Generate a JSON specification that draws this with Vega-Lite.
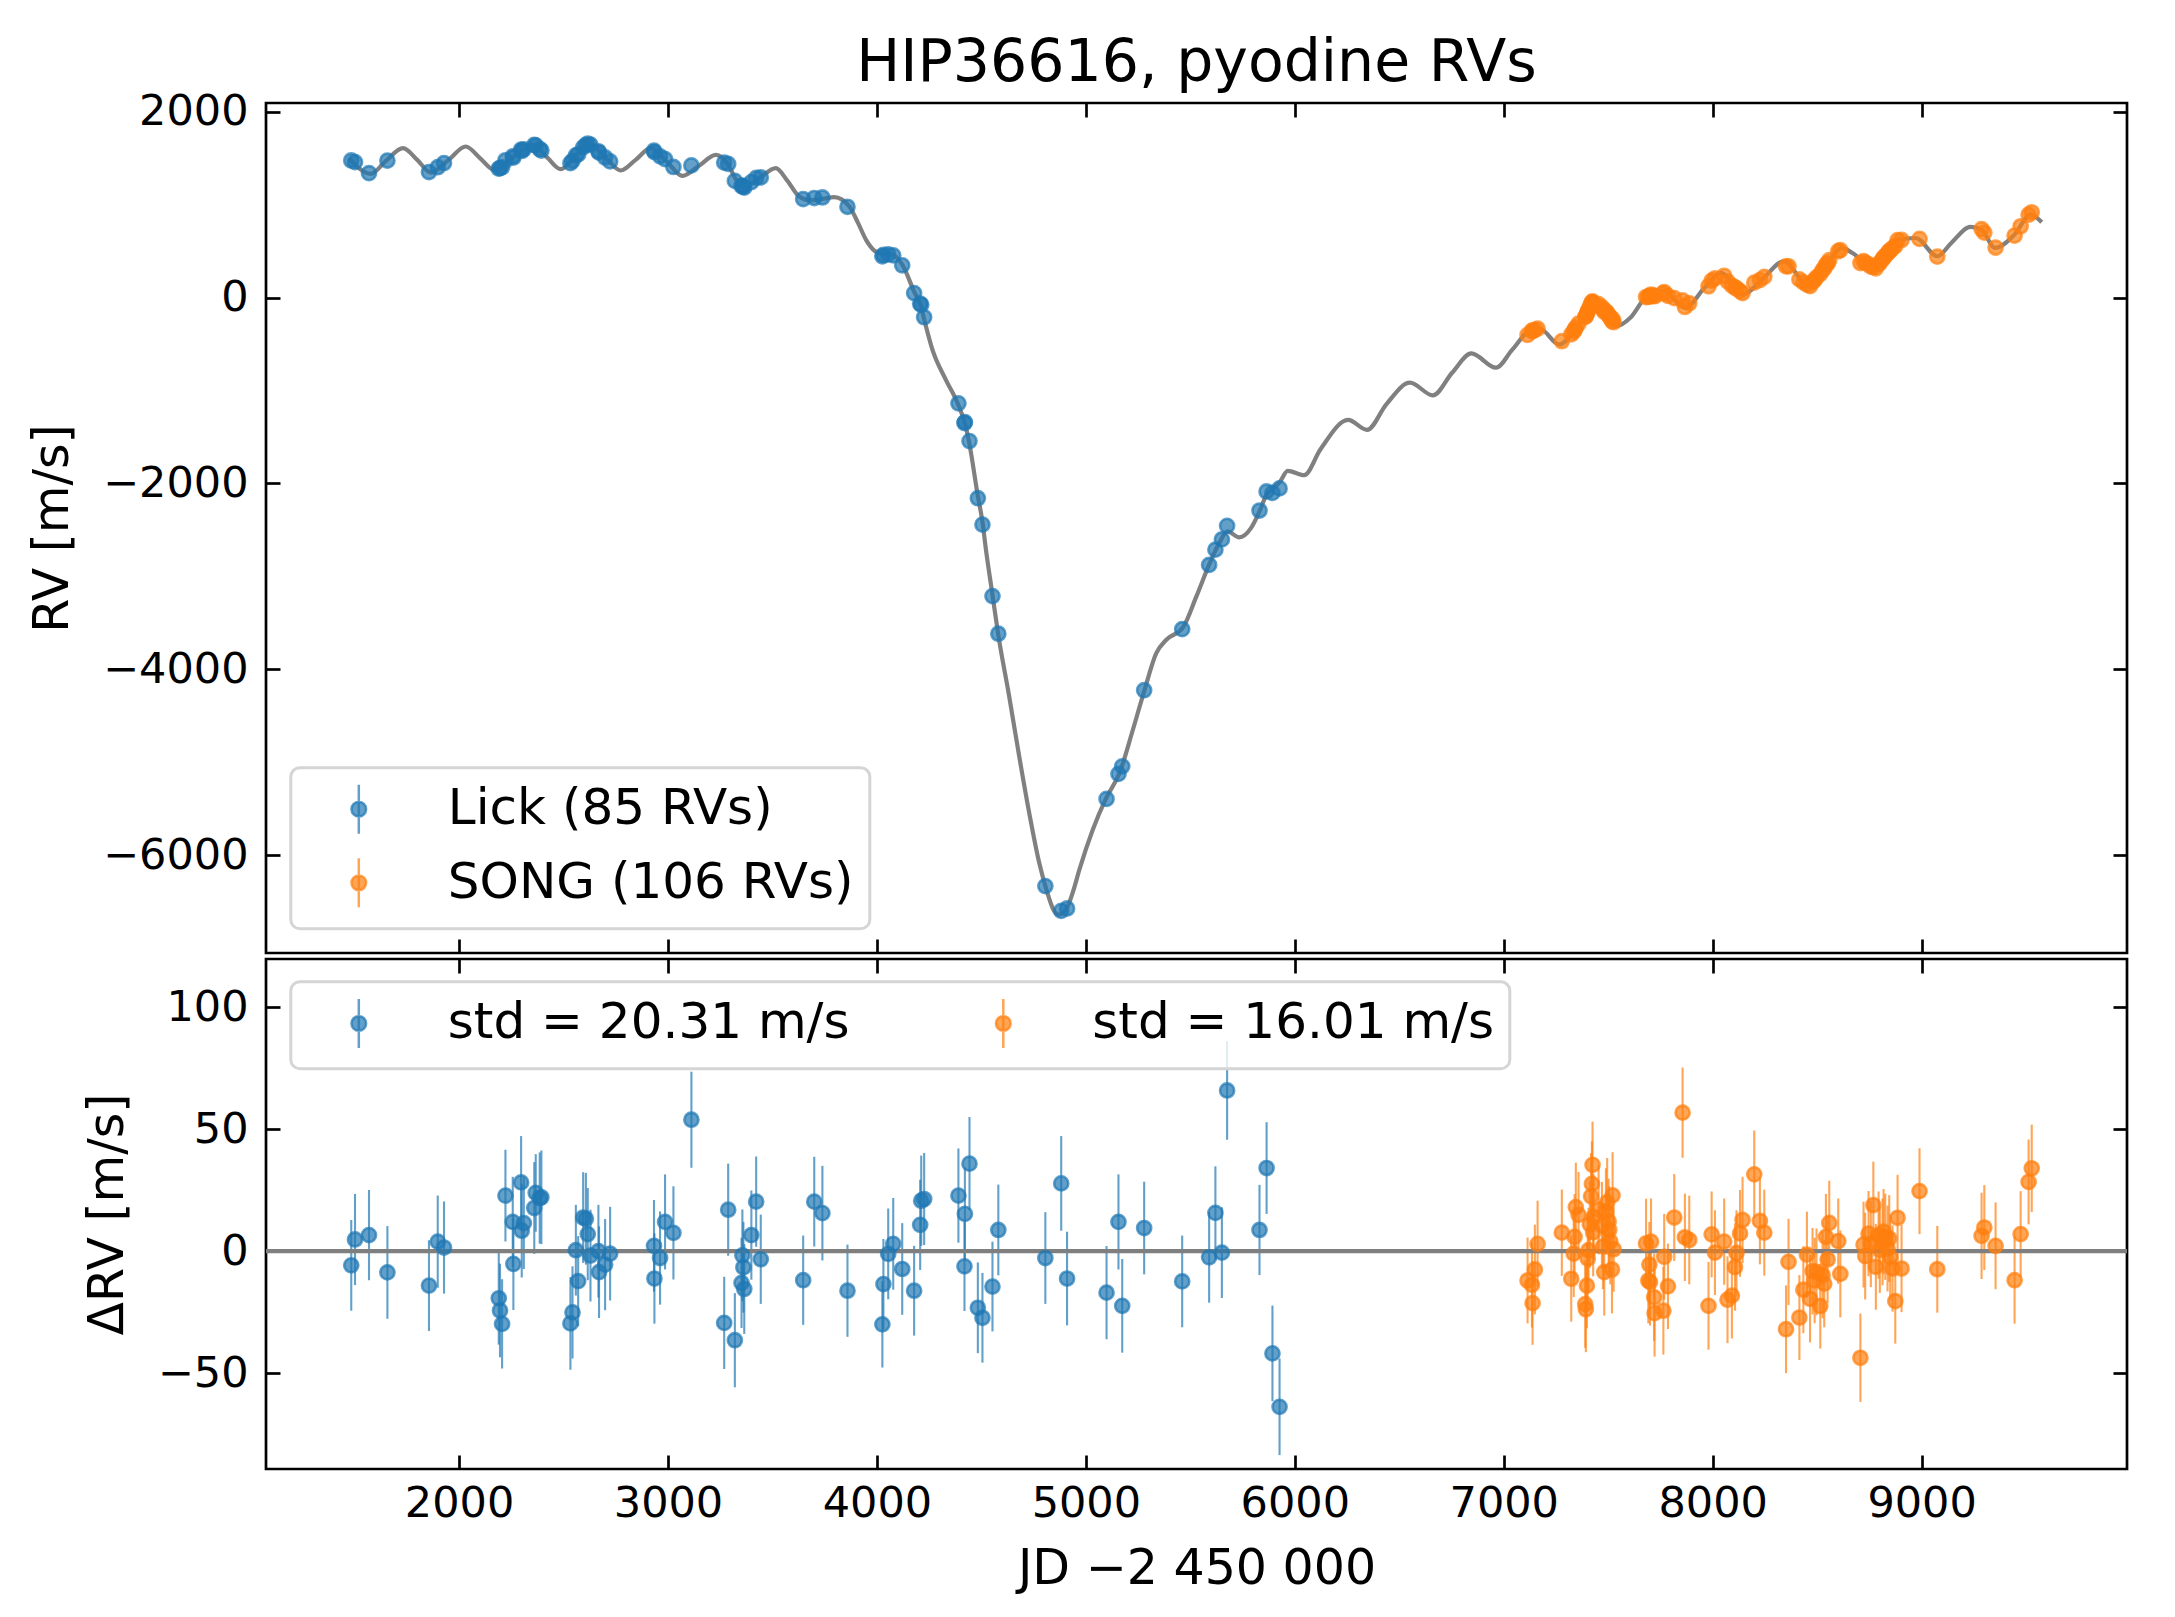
{
  "$schema": "https://vega.github.io/schema/vega-lite/v6.json",
  "background": "white",
  "padding": {"left": 27, "top": 32, "right": 0, "bottom": 0},
  "spacing": 0,
  "datasets": {
    "model": [
      {"t": 1473, "rv": 1498}, {"t": 1577, "rv": 1330}, {"t": 1650, "rv": 1470}, {"t": 1732, "rv": 1606},
      {"t": 1800, "rv": 1480}, {"t": 1865, "rv": 1344}, {"t": 1950, "rv": 1480}, {"t": 2032, "rv": 1624},
      {"t": 2100, "rv": 1500}, {"t": 2168, "rv": 1373}, {"t": 2260, "rv": 1510}, {"t": 2351, "rv": 1641},
      {"t": 2420, "rv": 1510}, {"t": 2487, "rv": 1380}, {"t": 2555, "rv": 1520}, {"t": 2622, "rv": 1659},
      {"t": 2700, "rv": 1510}, {"t": 2774, "rv": 1366}, {"t": 2845, "rv": 1480}, {"t": 2918, "rv": 1606},
      {"t": 2995, "rv": 1460}, {"t": 3069, "rv": 1308}, {"t": 3150, "rv": 1420}, {"t": 3229, "rv": 1534},
      {"t": 3290, "rv": 1420}, {"t": 3325, "rv": 1270}, {"t": 3370, "rv": 1195}, {"t": 3440, "rv": 1290},
      {"t": 3516, "rv": 1391}, {"t": 3570, "rv": 1260}, {"t": 3628, "rv": 1086}, {"t": 3680, "rv": 1045},
      {"t": 3740, "rv": 1060}, {"t": 3796, "rv": 1079}, {"t": 3868, "rv": 979}, {"t": 3910, "rv": 800},
      {"t": 3948, "rv": 620}, {"t": 3990, "rv": 500}, {"t": 4012, "rv": 477}, {"t": 4074, "rv": 459},
      {"t": 4122, "rv": 351}, {"t": 4178, "rv": 64}, {"t": 4210, "rv": -90}, {"t": 4226, "rv": -233},
      {"t": 4266, "rv": -563}, {"t": 4330, "rv": -885}, {"t": 4386, "rv": -1136}, {"t": 4423, "rv": -1369},
      {"t": 4442, "rv": -1566}, {"t": 4482, "rv": -2122}, {"t": 4506, "rv": -2427}, {"t": 4521, "rv": -2700},
      {"t": 4553, "rv": -3197}, {"t": 4580, "rv": -3617}, {"t": 4633, "rv": -4290}, {"t": 4681, "rv": -4936},
      {"t": 4729, "rv": -5545}, {"t": 4777, "rv": -6083}, {"t": 4809, "rv": -6352}, {"t": 4849, "rv": -6602},
      {"t": 4870, "rv": -6638}, {"t": 4895, "rv": -6610}, {"t": 4913, "rv": -6549}, {"t": 4940, "rv": -6380},
      {"t": 4969, "rv": -6154}, {"t": 5033, "rv": -5724}, {"t": 5097, "rv": -5384}, {"t": 5161, "rv": -5115},
      {"t": 5225, "rv": -4649}, {"t": 5281, "rv": -4219}, {"t": 5337, "rv": -3825}, {"t": 5385, "rv": -3681},
      {"t": 5465, "rv": -3548}, {"t": 5529, "rv": -3215}, {"t": 5593, "rv": -2857}, {"t": 5638, "rv": -2642},
      {"t": 5678, "rv": -2516}, {"t": 5734, "rv": -2580}, {"t": 5790, "rv": -2480}, {"t": 5831, "rv": -2300},
      {"t": 5865, "rv": -2120}, {"t": 5893, "rv": -2060}, {"t": 5927, "rv": -1989}, {"t": 5966, "rv": -1864},
      {"t": 6045, "rv": -1911}, {"t": 6123, "rv": -1632}, {"t": 6255, "rv": -1317}, {"t": 6346, "rv": -1424},
      {"t": 6438, "rv": -1149}, {"t": 6551, "rv": -916}, {"t": 6661, "rv": -1052}, {"t": 6753, "rv": -809},
      {"t": 6845, "rv": -601}, {"t": 6963, "rv": -755}, {"t": 7042, "rv": -558}, {"t": 7134, "rv": -343},
      {"t": 7173, "rv": -336}, {"t": 7265, "rv": -505}, {"t": 7344, "rv": -343}, {"t": 7423, "rv": -75},
      {"t": 7462, "rv": -93}, {"t": 7541, "rv": -308}, {"t": 7606, "rv": -218}, {"t": 7685, "rv": 14},
      {"t": 7764, "rv": 68}, {"t": 7869, "rv": -111}, {"t": 7961, "rv": 104}, {"t": 8039, "rv": 265},
      {"t": 8144, "rv": 32}, {"t": 8236, "rv": 193}, {"t": 8341, "rv": 390}, {"t": 8459, "rv": 122},
      {"t": 8551, "rv": 372}, {"t": 8617, "rv": 533}, {"t": 8669, "rv": 479}, {"t": 8774, "rv": 301},
      {"t": 8892, "rv": 623}, {"t": 8971, "rv": 640}, {"t": 9076, "rv": 444}, {"t": 9142, "rv": 587},
      {"t": 9234, "rv": 759}, {"t": 9286, "rv": 730}, {"t": 9352, "rv": 533}, {"t": 9444, "rv": 676},
      {"t": 9522, "rv": 891}, {"t": 9575, "rv": 809}
    ],
    "obs": [
      {"inst": "Lick", "t": 1484, "rv": 1474, "res": -5.8, "err": 18.6},
      {"inst": "Lick", "t": 1502, "rv": 1456, "res": 4.8, "err": 18.7},
      {"inst": "Lick", "t": 1569, "rv": 1337, "res": 6.6, "err": 18.5},
      {"inst": "Lick", "t": 1657, "rv": 1473, "res": -8.7, "err": 19.0},
      {"inst": "Lick", "t": 1856, "rv": 1349, "res": -14.1, "err": 18.6},
      {"inst": "Lick", "t": 1898, "rv": 1401, "res": 3.9, "err": 18.9},
      {"inst": "Lick", "t": 1928, "rv": 1446, "res": 1.5, "err": 18.9},
      {"inst": "Lick", "t": 2190, "rv": 1386, "res": -19.3, "err": 19.0},
      {"inst": "Lick", "t": 2196, "rv": 1391, "res": -24.3, "err": 19.2},
      {"inst": "Lick", "t": 2206, "rv": 1400, "res": -29.8, "err": 18.3},
      {"inst": "Lick", "t": 2222, "rv": 1476, "res": 22.8, "err": 18.8},
      {"inst": "Lick", "t": 2257, "rv": 1517, "res": 12.0, "err": 18.5},
      {"inst": "Lick", "t": 2260, "rv": 1505, "res": -5.2, "err": 18.9},
      {"inst": "Lick", "t": 2297, "rv": 1591, "res": 28.2, "err": 19.0},
      {"inst": "Lick", "t": 2300, "rv": 1576, "res": 8.4, "err": 19.2},
      {"inst": "Lick", "t": 2310, "rv": 1594, "res": 11.5, "err": 18.8},
      {"inst": "Lick", "t": 2360, "rv": 1642, "res": 17.7, "err": 18.8},
      {"inst": "Lick", "t": 2367, "rv": 1635, "res": 23.9, "err": 15.9},
      {"inst": "Lick", "t": 2386, "rv": 1597, "res": 21.8, "err": 18.7},
      {"inst": "Lick", "t": 2394, "rv": 1581, "res": 22.1, "err": 19.2},
      {"inst": "Lick", "t": 2533, "rv": 1445, "res": -29.6, "err": 19.0},
      {"inst": "Lick", "t": 2543, "rv": 1470, "res": -25.1, "err": 18.9},
      {"inst": "Lick", "t": 2559, "rv": 1528, "res": 0.4, "err": 18.6},
      {"inst": "Lick", "t": 2570, "rv": 1539, "res": -12.3, "err": 18.5},
      {"inst": "Lick", "t": 2594, "rv": 1615, "res": 13.8, "err": 18.6},
      {"inst": "Lick", "t": 2607, "rv": 1641, "res": 13.3, "err": 18.8},
      {"inst": "Lick", "t": 2616, "rv": 1654, "res": 7.0, "err": 18.9},
      {"inst": "Lick", "t": 2629, "rv": 1644, "res": -1.8, "err": 18.8},
      {"inst": "Lick", "t": 2667, "rv": 1573, "res": 0.0, "err": 19.0},
      {"inst": "Lick", "t": 2670, "rv": 1558, "res": -8.6, "err": 18.8},
      {"inst": "Lick", "t": 2699, "rv": 1506, "res": -5.5, "err": 18.7},
      {"inst": "Lick", "t": 2723, "rv": 1464, "res": -1.0, "err": 19.2},
      {"inst": "Lick", "t": 2933, "rv": 1580, "res": 2.2, "err": 18.8},
      {"inst": "Lick", "t": 2935, "rv": 1563, "res": -11.2, "err": 18.5},
      {"inst": "Lick", "t": 2962, "rv": 1519, "res": -2.8, "err": 19.1},
      {"inst": "Lick", "t": 2986, "rv": 1489, "res": 12.0, "err": 19.5},
      {"inst": "Lick", "t": 3026, "rv": 1404, "res": 7.5, "err": 19.1},
      {"inst": "Lick", "t": 3112, "rv": 1421, "res": 53.9, "err": 19.7},
      {"inst": "Lick", "t": 3269, "rv": 1451, "res": -29.4, "err": 18.9},
      {"inst": "Lick", "t": 3288, "rv": 1437, "res": 17.0, "err": 18.9},
      {"inst": "Lick", "t": 3320, "rv": 1254, "res": -36.5, "err": 19.3},
      {"inst": "Lick", "t": 3352, "rv": 1199, "res": -13.0, "err": 18.5},
      {"inst": "Lick", "t": 3356, "rv": 1203, "res": -1.7, "err": 18.8},
      {"inst": "Lick", "t": 3361, "rv": 1193, "res": -6.6, "err": 18.6},
      {"inst": "Lick", "t": 3365, "rv": 1181, "res": -15.5, "err": 18.4},
      {"inst": "Lick", "t": 3399, "rv": 1241, "res": 6.6, "err": 18.3},
      {"inst": "Lick", "t": 3422, "rv": 1286, "res": 20.3, "err": 18.5},
      {"inst": "Lick", "t": 3444, "rv": 1292, "res": -3.3, "err": 18.3},
      {"inst": "Lick", "t": 3647, "rv": 1059, "res": -11.9, "err": 18.3},
      {"inst": "Lick", "t": 3700, "rv": 1070, "res": 20.3, "err": 18.4},
      {"inst": "Lick", "t": 3739, "rv": 1076, "res": 15.6, "err": 19.4},
      {"inst": "Lick", "t": 3859, "rv": 976, "res": -16.2, "err": 18.9},
      {"inst": "Lick", "t": 4026, "rv": 443, "res": -30.0, "err": 17.7},
      {"inst": "Lick", "t": 4031, "rv": 458, "res": -13.5, "err": 18.5},
      {"inst": "Lick", "t": 4054, "rv": 464, "res": -1.1, "err": 18.6},
      {"inst": "Lick", "t": 4078, "rv": 453, "res": 3.0, "err": 18.8},
      {"inst": "Lick", "t": 4121, "rv": 346, "res": -7.3, "err": 18.8},
      {"inst": "Lick", "t": 4178, "rv": 48, "res": -16.2, "err": 18.4},
      {"inst": "Lick", "t": 4207, "rv": -65, "res": 10.8, "err": 18.5},
      {"inst": "Lick", "t": 4212, "rv": -78, "res": 20.7, "err": 18.5},
      {"inst": "Lick", "t": 4226, "rv": -212, "res": 21.4, "err": 18.9},
      {"inst": "Lick", "t": 4390, "rv": -1138, "res": 22.8, "err": 19.3},
      {"inst": "Lick", "t": 4419, "rv": -1350, "res": -6.2, "err": 18.3},
      {"inst": "Lick", "t": 4421, "rv": -1341, "res": 15.3, "err": 19.0},
      {"inst": "Lick", "t": 4443, "rv": -1544, "res": 35.9, "err": 19.1},
      {"inst": "Lick", "t": 4483, "rv": -2159, "res": -23.2, "err": 18.6},
      {"inst": "Lick", "t": 4505, "rv": -2442, "res": -27.3, "err": 18.4},
      {"inst": "Lick", "t": 4553, "rv": -3211, "res": -14.5, "err": 18.4},
      {"inst": "Lick", "t": 4581, "rv": -3616, "res": 8.7, "err": 18.6},
      {"inst": "Lick", "t": 4806, "rv": -6330, "res": -2.8, "err": 18.8},
      {"inst": "Lick", "t": 4882, "rv": -6597, "res": 27.8, "err": 19.4},
      {"inst": "Lick", "t": 4910, "rv": -6571, "res": -11.2, "err": 19.2},
      {"inst": "Lick", "t": 5099, "rv": -5393, "res": -17.0, "err": 19.1},
      {"inst": "Lick", "t": 5156, "rv": -5124, "res": 12.0, "err": 19.5},
      {"inst": "Lick", "t": 5174, "rv": -5042, "res": -22.4, "err": 19.2},
      {"inst": "Lick", "t": 5279, "rv": -4224, "res": 9.5, "err": 19.0},
      {"inst": "Lick", "t": 5461, "rv": -3567, "res": -12.4, "err": 18.8},
      {"inst": "Lick", "t": 5590, "rv": -2876, "res": -2.5, "err": 18.6},
      {"inst": "Lick", "t": 5620, "rv": -2712, "res": 15.7, "err": 19.1},
      {"inst": "Lick", "t": 5651, "rv": -2602, "res": -0.6, "err": 18.6},
      {"inst": "Lick", "t": 5676, "rv": -2456, "res": 65.9, "err": 20.2},
      {"inst": "Lick", "t": 5831, "rv": -2291, "res": 8.7, "err": 18.5},
      {"inst": "Lick", "t": 5865, "rv": -2086, "res": 34.1, "err": 18.8},
      {"inst": "Lick", "t": 5893, "rv": -2102, "res": -41.9, "err": 19.6},
      {"inst": "Lick", "t": 5927, "rv": -2053, "res": -63.8, "err": 19.8},
      {"inst": "SONG", "t": 7114, "rv": -402, "res": -12.0, "err": 17.6},
      {"inst": "SONG", "t": 7135, "rv": -357, "res": -13.8, "err": 17.5},
      {"inst": "SONG", "t": 7138, "rv": -363, "res": -21.3, "err": 17.1},
      {"inst": "SONG", "t": 7149, "rv": -347, "res": -7.5, "err": 18.4},
      {"inst": "SONG", "t": 7162, "rv": -334, "res": 3.0, "err": 17.7},
      {"inst": "SONG", "t": 7278, "rv": -470, "res": 7.6, "err": 17.7},
      {"inst": "SONG", "t": 7323, "rv": -397, "res": -11.3, "err": 17.6},
      {"inst": "SONG", "t": 7335, "rv": -366, "res": -1.0, "err": 17.8},
      {"inst": "SONG", "t": 7339, "rv": -347, "res": 5.9, "err": 17.5},
      {"inst": "SONG", "t": 7345, "rv": -322, "res": 18.1, "err": 18.2},
      {"inst": "SONG", "t": 7358, "rv": -281, "res": 14.9, "err": 17.6},
      {"inst": "SONG", "t": 7390, "rv": -209, "res": -21.7, "err": 17.9},
      {"inst": "SONG", "t": 7393, "rv": -201, "res": -23.8, "err": 17.6},
      {"inst": "SONG", "t": 7398, "rv": -174, "res": -14.1, "err": 17.5},
      {"inst": "SONG", "t": 7402, "rv": -149, "res": -3.0, "err": 18.1},
      {"inst": "SONG", "t": 7406, "rv": -133, "res": 0.4, "err": 17.4},
      {"inst": "SONG", "t": 7412, "rv": -101, "res": 11.0, "err": 17.8},
      {"inst": "SONG", "t": 7418, "rv": -70, "res": 22.5, "err": 17.7},
      {"inst": "SONG", "t": 7422, "rv": -50, "res": 27.6, "err": 17.5},
      {"inst": "SONG", "t": 7425, "rv": -41, "res": 35.4, "err": 17.7},
      {"inst": "SONG", "t": 7428, "rv": -69, "res": 7.7, "err": 18.0},
      {"inst": "SONG", "t": 7430, "rv": -64, "res": 14.0, "err": 17.6},
      {"inst": "SONG", "t": 7454, "rv": -72, "res": 17.0, "err": 18.3},
      {"inst": "SONG", "t": 7470, "rv": -105, "res": 10.5, "err": 17.9},
      {"inst": "SONG", "t": 7475, "rv": -126, "res": 2.0, "err": 17.6},
      {"inst": "SONG", "t": 7481, "rv": -154, "res": -8.6, "err": 17.8},
      {"inst": "SONG", "t": 7489, "rv": -150, "res": 16.3, "err": 17.7},
      {"inst": "SONG", "t": 7495, "rv": -163, "res": 20.0, "err": 18.2},
      {"inst": "SONG", "t": 7502, "rv": -190, "res": 12.2, "err": 17.5},
      {"inst": "SONG", "t": 7505, "rv": -201, "res": 8.7, "err": 17.9},
      {"inst": "SONG", "t": 7510, "rv": -220, "res": 4.0, "err": 17.6},
      {"inst": "SONG", "t": 7518, "rv": -254, "res": -7.5, "err": 18.0},
      {"inst": "SONG", "t": 7521, "rv": -231, "res": 22.9, "err": 17.7},
      {"inst": "SONG", "t": 7526, "rv": -266, "res": 0.8, "err": 17.4},
      {"inst": "SONG", "t": 7681, "rv": 5, "res": 3.2, "err": 18.3},
      {"inst": "SONG", "t": 7692, "rv": 6, "res": -12.0, "err": 17.6},
      {"inst": "SONG", "t": 7697, "rv": 17, "res": -5.5, "err": 17.5},
      {"inst": "SONG", "t": 7700, "rv": 11, "res": -12.7, "err": 17.8},
      {"inst": "SONG", "t": 7705, "rv": 32, "res": 3.9, "err": 17.7},
      {"inst": "SONG", "t": 7720, "rv": 19, "res": -18.9, "err": 17.9},
      {"inst": "SONG", "t": 7722, "rv": 14, "res": -25.4, "err": 17.8},
      {"inst": "SONG", "t": 7764, "rv": 44, "res": -24.4, "err": 18.0},
      {"inst": "SONG", "t": 7768, "rv": 59, "res": -2.3, "err": 17.6},
      {"inst": "SONG", "t": 7786, "rv": 17, "res": -14.4, "err": 17.5},
      {"inst": "SONG", "t": 7816, "rv": -6, "res": 13.8, "err": 17.8},
      {"inst": "SONG", "t": 7856, "rv": -32, "res": 56.8, "err": 18.5},
      {"inst": "SONG", "t": 7867, "rv": -102, "res": 5.7, "err": 17.9},
      {"inst": "SONG", "t": 7888, "rv": -62, "res": 4.6, "err": 18.2},
      {"inst": "SONG", "t": 7980, "rv": 121, "res": -22.4, "err": 18.0},
      {"inst": "SONG", "t": 7995, "rv": 181, "res": 6.9, "err": 17.6},
      {"inst": "SONG", "t": 8011, "rv": 206, "res": -0.6, "err": 17.4},
      {"inst": "SONG", "t": 8055, "rv": 234, "res": 3.9, "err": 17.7},
      {"inst": "SONG", "t": 8071, "rv": 174, "res": -19.9, "err": 17.8},
      {"inst": "SONG", "t": 8092, "rv": 129, "res": -18.2, "err": 17.6},
      {"inst": "SONG", "t": 8107, "rv": 108, "res": -6.5, "err": 17.9},
      {"inst": "SONG", "t": 8114, "rv": 97, "res": -0.7, "err": 17.5},
      {"inst": "SONG", "t": 8131, "rv": 68, "res": 7.3, "err": 17.8},
      {"inst": "SONG", "t": 8143, "rv": 47, "res": 12.8, "err": 17.7},
      {"inst": "SONG", "t": 8199, "rv": 160, "res": 31.5, "err": 18.0},
      {"inst": "SONG", "t": 8226, "rv": 188, "res": 12.4, "err": 17.8},
      {"inst": "SONG", "t": 8247, "rv": 222, "res": 7.6, "err": 17.6},
      {"inst": "SONG", "t": 8351, "rv": 335, "res": -32.0, "err": 18.0},
      {"inst": "SONG", "t": 8363, "rv": 336, "res": -4.4, "err": 17.7},
      {"inst": "SONG", "t": 8415, "rv": 195, "res": -27.2, "err": 17.4},
      {"inst": "SONG", "t": 8434, "rv": 163, "res": -15.8, "err": 17.8},
      {"inst": "SONG", "t": 8451, "rv": 139, "res": -1.4, "err": 17.6},
      {"inst": "SONG", "t": 8466, "rv": 122, "res": -19.5, "err": 17.9},
      {"inst": "SONG", "t": 8478, "rv": 166, "res": -8.2, "err": 17.7},
      {"inst": "SONG", "t": 8488, "rv": 188, "res": -12.0, "err": 17.5},
      {"inst": "SONG", "t": 8497, "rv": 217, "res": -8.5, "err": 17.8},
      {"inst": "SONG", "t": 8515, "rv": 252, "res": -22.5, "err": 17.4},
      {"inst": "SONG", "t": 8526, "rv": 294, "res": -9.8, "err": 17.7},
      {"inst": "SONG", "t": 8534, "rv": 313, "res": -13.3, "err": 17.9},
      {"inst": "SONG", "t": 8542, "rv": 354, "res": 5.9, "err": 17.6},
      {"inst": "SONG", "t": 8550, "rv": 366, "res": -3.4, "err": 17.8},
      {"inst": "SONG", "t": 8558, "rv": 401, "res": 11.6, "err": 17.3},
      {"inst": "SONG", "t": 8601, "rv": 498, "res": 4.1, "err": 17.5},
      {"inst": "SONG", "t": 8611, "rv": 509, "res": -9.3, "err": 17.8},
      {"inst": "SONG", "t": 8707, "rv": 371, "res": -43.7, "err": 18.1},
      {"inst": "SONG", "t": 8722, "rv": 392, "res": 2.7, "err": 17.6},
      {"inst": "SONG", "t": 8730, "rv": 374, "res": -2.0, "err": 17.8},
      {"inst": "SONG", "t": 8746, "rv": 356, "res": 7.2, "err": 17.5},
      {"inst": "SONG", "t": 8757, "rv": 333, "res": 3.0, "err": 17.7},
      {"inst": "SONG", "t": 8769, "rv": 328, "res": 18.9, "err": 17.8},
      {"inst": "SONG", "t": 8781, "rv": 314, "res": -6.4, "err": 17.6},
      {"inst": "SONG", "t": 8794, "rv": 363, "res": 6.6, "err": 17.9},
      {"inst": "SONG", "t": 8800, "rv": 371, "res": 0.5, "err": 17.6},
      {"inst": "SONG", "t": 8813, "rv": 411, "res": 3.8, "err": 17.8},
      {"inst": "SONG", "t": 8818, "rv": 428, "res": 8.0, "err": 17.5},
      {"inst": "SONG", "t": 8826, "rv": 449, "res": 5.9, "err": 17.7},
      {"inst": "SONG", "t": 8837, "rv": 474, "res": 1.1, "err": 17.6},
      {"inst": "SONG", "t": 8845, "rv": 500, "res": 5.2, "err": 17.8},
      {"inst": "SONG", "t": 8850, "rv": 506, "res": -2.5, "err": 17.5},
      {"inst": "SONG", "t": 8861, "rv": 531, "res": -7.1, "err": 17.7},
      {"inst": "SONG", "t": 8874, "rv": 554, "res": -20.5, "err": 17.4},
      {"inst": "SONG", "t": 8885, "rv": 618, "res": 13.7, "err": 17.6},
      {"inst": "SONG", "t": 8904, "rv": 619, "res": -7.1, "err": 17.9},
      {"inst": "SONG", "t": 8990, "rv": 630, "res": 24.6, "err": 17.6},
      {"inst": "SONG", "t": 9075, "rv": 439, "res": -7.4, "err": 17.8},
      {"inst": "SONG", "t": 9287, "rv": 735, "res": 6.3, "err": 17.7},
      {"inst": "SONG", "t": 9300, "rv": 698, "res": 9.7, "err": 17.4},
      {"inst": "SONG", "t": 9354, "rv": 537, "res": 2.2, "err": 17.8},
      {"inst": "SONG", "t": 9445, "rv": 666, "res": -11.9, "err": 17.8},
      {"inst": "SONG", "t": 9474, "rv": 766, "res": 7.0, "err": 17.6},
      {"inst": "SONG", "t": 9512, "rv": 891, "res": 28.4, "err": 17.4},
      {"inst": "SONG", "t": 9527, "rv": 917, "res": 34.0, "err": 17.9}
    ]
  },
  "vconcat": [
    {
      "title": {
        "text": "HIP36616, pyodine RVs",
        "frame": "group",
        "anchor": "middle",
        "baseline": "alphabetic",
        "offset": -49,
        "fontSize": 58.5,
        "fontWeight": "normal",
        "font": "DejaVu Sans",
        "color": "black"
      },
      "width": 1861,
      "height": 850,
      "layer": [
        {
          "data": {"name": "model"},
          "mark": {"type": "line", "color": "#808080", "strokeWidth": 4.2, "interpolate": "monotone"},
          "encoding": {
            "x": {
              "field": "t", "type": "quantitative",
              "scale": {"domain": [1076, 9983], "nice": false, "zero": false},
              "axis": {"orient": "bottom", "labels": false, "title": null, "values": [2000, 3000, 4000, 5000, 6000, 7000, 8000, 9000]}
            },
            "y": {
              "field": "rv", "type": "quantitative",
              "scale": {"domain": [-7050, 2092], "nice": false, "zero": false},
              "axis": {"orient": "left", "title": "RV [m/s]", "values": [-6000, -4000, -2000, 0, 2000], "format": "d", "labelExpr": "replace(datum.label, '-', '−')"}
            }
          }
        },
        {
          "data": {"name": "obs"},
          "mark": {"type": "point", "filled": true, "size": 200, "fillOpacity": 0.7, "strokeOpacity": 0.7, "strokeWidth": 2.6},
          "encoding": {
            "x": {
              "field": "t", "type": "quantitative",
              "scale": {"domain": [1076, 9983], "nice": false, "zero": false},
              "axis": {"orient": "top", "labels": false, "title": null, "values": [2000, 3000, 4000, 5000, 6000, 7000, 8000, 9000]}
            },
            "y": {
              "field": "rv", "type": "quantitative",
              "scale": {"domain": [-7050, 2092], "nice": false, "zero": false},
              "axis": {"orient": "right", "labels": false, "title": null, "values": [-6000, -4000, -2000, 0, 2000]}
            },
            "fill": {
              "field": "inst", "type": "nominal",
              "scale": {"domain": ["Lick", "SONG"], "range": ["#1f77b4", "#ff7f0e"]},
              "legend": {
                "title": null,
                "orient": "none",
                "legendX": 24.8,
                "legendY": 664.7,
                "direction": "vertical",
                "labelExpr": "datum.label == 'Lick' ? 'Lick (85 RVs)' : 'SONG (106 RVs)'",
                "encode": {
                  "symbols": {
                    "update": {
                      "stroke": {"signal": "datum.value == 'Lick' ? '#1f77b4' : '#ff7f0e'"},
                      "fill": {"signal": "datum.value == 'Lick' ? '#1f77b4' : '#ff7f0e'"},
                      "fillOpacity": {"value": 0.7},
                      "strokeOpacity": {"value": 0.7},
                      "opacity": {"value": 1}
                    }
                  }
                }
              }
            },
            "stroke": {
              "field": "inst", "type": "nominal",
              "scale": {"domain": ["Lick", "SONG"], "range": ["#1f77b4", "#ff7f0e"]},
              "legend": null
            }
          }
        }
      ],
      "resolve": {
        "scale": {"x": "independent", "y": "independent"},
        "axis": {"x": "independent", "y": "independent"}
      }
    },
    {
      "width": 1861,
      "height": 510,
      "layer": [
        {
          "data": {"name": "obs"},
          "transform": [{"filter": "datum.inst == 'Lick'"}],
          "mark": {"type": "errorbar", "rule": {"strokeWidth": 2.1, "opacity": 0.7, "color": "#1f77b4"}},
          "encoding": {
            "x": {
              "field": "t", "type": "quantitative",
              "scale": {"domain": [1076, 9983], "nice": false, "zero": false},
              "axis": {"orient": "bottom", "title": "JD −2 450 000", "values": [2000, 3000, 4000, 5000, 6000, 7000, 8000, 9000], "format": "d"}
            },
            "y": {
              "field": "res", "type": "quantitative",
              "scale": {"domain": [-89.3, 119.8], "nice": false, "zero": false},
              "axis": {"orient": "left", "title": "ΔRV [m/s]", "values": [-50, 0, 50, 100], "format": "d", "labelExpr": "replace(datum.label, '-', '−')"}
            },
            "yError": {"field": "err"}
          }
        },
        {
          "data": {"name": "obs"},
          "transform": [{"filter": "datum.inst == 'SONG'"}],
          "mark": {"type": "errorbar", "rule": {"strokeWidth": 2.1, "opacity": 0.7, "color": "#ff7f0e"}},
          "encoding": {
            "x": {
              "field": "t", "type": "quantitative",
              "scale": {"domain": [1076, 9983], "nice": false, "zero": false},
              "axis": null
            },
            "y": {
              "field": "res", "type": "quantitative",
              "scale": {"domain": [-89.3, 119.8], "nice": false, "zero": false},
              "axis": null
            },
            "yError": {"field": "err"}
          }
        },
        {
          "data": {"values": [{}]},
          "mark": {"type": "rule", "color": "#7f7f7f", "strokeWidth": 4.3},
          "encoding": {
            "y": {"datum": 0, "type": "quantitative", "scale": {"domain": [-89.3, 119.8], "nice": false, "zero": false}, "axis": null}
          }
        },
        {
          "data": {"name": "obs"},
          "mark": {"type": "point", "filled": true, "size": 200, "fillOpacity": 0.7, "strokeOpacity": 0.7, "strokeWidth": 2.6},
          "encoding": {
            "x": {
              "field": "t", "type": "quantitative",
              "scale": {"domain": [1076, 9983], "nice": false, "zero": false},
              "axis": {"orient": "top", "labels": false, "title": null, "values": [2000, 3000, 4000, 5000, 6000, 7000, 8000, 9000]}
            },
            "y": {
              "field": "res", "type": "quantitative",
              "scale": {"domain": [-89.3, 119.8], "nice": false, "zero": false},
              "axis": {"orient": "right", "labels": false, "title": null, "values": [-50, 0, 50, 100]}
            },
            "fill": {
              "field": "inst", "type": "nominal",
              "scale": {"domain": ["Lick", "SONG"], "range": ["#1f77b4", "#ff7f0e"]},
              "legend": {
                "title": null,
                "orient": "none",
                "legendX": 24.8,
                "legendY": 22.7,
                "direction": "horizontal",
                "columnPadding": 100.5,
                "labelExpr": "datum.label == 'Lick' ? 'std = 20.31 m/s' : 'std = 16.01 m/s'",
                "encode": {
                  "symbols": {
                    "update": {
                      "stroke": {"signal": "datum.value == 'Lick' ? '#1f77b4' : '#ff7f0e'"},
                      "fill": {"signal": "datum.value == 'Lick' ? '#1f77b4' : '#ff7f0e'"},
                      "fillOpacity": {"value": 0.7},
                      "strokeOpacity": {"value": 0.7},
                      "opacity": {"value": 1}
                    }
                  }
                }
              }
            },
            "stroke": {
              "field": "inst", "type": "nominal",
              "scale": {"domain": ["Lick", "SONG"], "range": ["#1f77b4", "#ff7f0e"]},
              "legend": null
            }
          }
        }
      ],
      "resolve": {
        "scale": {"x": "independent", "y": "independent"},
        "axis": {"x": "independent", "y": "independent"}
      }
    }
  ],
  "resolve": {
    "scale": {"fill": "independent", "stroke": "independent"},
    "legend": {"fill": "independent", "stroke": "independent"}
  },
  "config": {
    "font": "DejaVu Sans",
    "view": {"stroke": "black", "strokeWidth": 2.7},
    "axis": {
      "domain": false,
      "grid": false,
      "ticks": true,
      "tickColor": "black",
      "tickWidth": 2.7,
      "tickSize": -14,
      "labelFont": "DejaVu Sans",
      "labelFontSize": 43,
      "labelColor": "black",
      "labelOverlap": false,
      "labelBound": false,
      "labelFlush": false,
      "labelPadding": 32,
      "titleFont": "DejaVu Sans",
      "titleFontSize": 49,
      "titleFontWeight": "normal",
      "titleColor": "black",
      "titlePadding": 25
    },
    "axisX": {"labelPadding": 27, "titlePadding": 19},
    "legend": {
      "labelFont": "DejaVu Sans",
      "labelFontSize": 50,
      "labelColor": "black",
      "labelLimit": 1000,
      "symbolType": "M0,-1L0,1M-0.3,0A0.3,0.3,0,1,0,0.3,0A0.3,0.3,0,1,0,-0.3,0Z",
      "symbolSize": 2401,
      "symbolStrokeWidth": 2.5,
      "symbolOffset": 26.5,
      "labelOffset": 63,
      "padding": 15.5,
      "rowPadding": 13.6,
      "cornerRadius": 9,
      "fillColor": "rgba(255,255,255,0.8)",
      "strokeColor": "#d5d5d5",
      "strokeWidth": 3
    }
  }
}
